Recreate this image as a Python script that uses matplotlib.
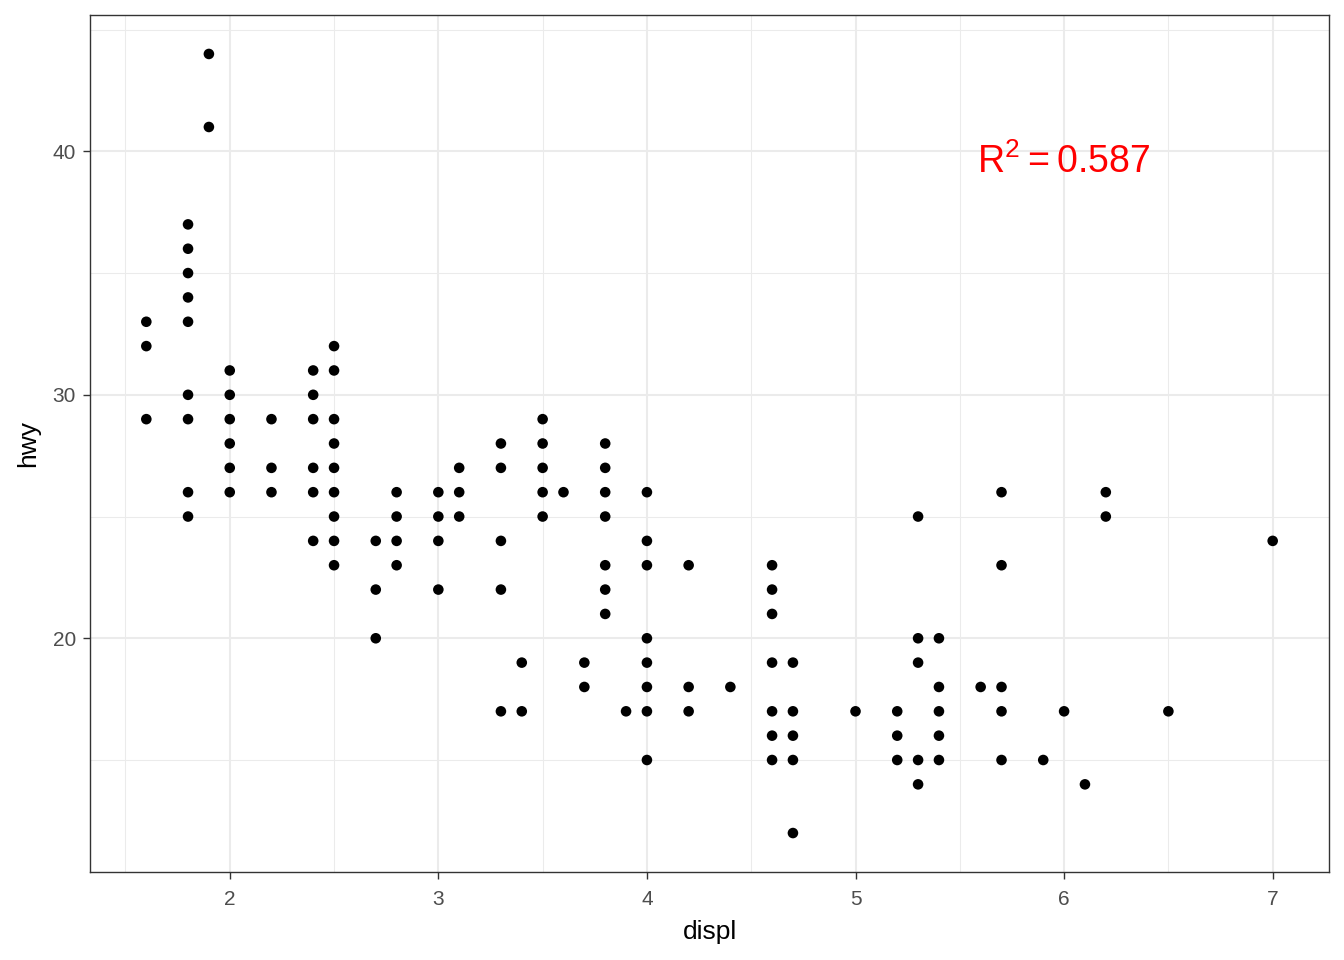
import matplotlib
matplotlib.use("Agg")
import matplotlib.pyplot as plt
from matplotlib.ticker import MultipleLocator

# mpg: displ vs hwy (distinct points)
displ_groups = [1.6, 1.8, 1.9, 2.0, 2.2, 2.4, 2.5, 2.7, 2.8, 3.0, 3.1, 3.3, 3.4,
                3.5, 3.6, 3.7, 3.8, 3.9, 4.0, 4.2, 4.4, 4.6, 4.7, 5.0, 5.2, 5.3,
                5.4, 5.6, 5.7, 5.9, 6.0, 6.1, 6.2, 6.5, 7.0]
hwy_groups = [
    [33, 32, 29],
    [37, 36, 35, 34, 33, 30, 29, 26, 25],
    [44, 41],
    [31, 30, 29, 28, 27, 26],
    [29, 27, 26],
    [31, 30, 29, 27, 26, 24],
    [32, 31, 29, 28, 27, 26, 25, 24, 23],
    [24, 22, 20],
    [26, 25, 24, 23],
    [26, 25, 24, 22],
    [27, 26, 25],
    [28, 27, 24, 22, 17],
    [19, 17],
    [29, 28, 27, 26, 25],
    [26],
    [19, 18],
    [28, 27, 26, 25, 23, 22, 21],
    [17],
    [26, 24, 23, 20, 19, 18, 17, 15],
    [23, 18, 17],
    [18],
    [23, 22, 21, 19, 17, 16, 15],
    [19, 17, 16, 15, 12],
    [17],
    [17, 16, 15],
    [25, 20, 19, 15, 14],
    [20, 18, 17, 16, 15],
    [18],
    [26, 23, 18, 17, 15],
    [15],
    [17],
    [14],
    [26, 25],
    [17],
    [24],
]
r2_value = 0.587

displ = [d for d, hs in zip(displ_groups, hwy_groups) for _ in hs]
hwy = [h for hs in hwy_groups for h in hs]

plt.rcParams['font.family'] = ['Liberation Sans', 'DejaVu Sans']
fig = plt.figure(figsize=(13.44, 9.6), dpi=100)
ax = fig.add_axes([90 / 1344, 1 - 872 / 960, (1329 - 90) / 1344, (872 - 15) / 960])

ax.scatter(displ, hwy, s=58, color='black', edgecolors='none', zorder=3)

xmin, xmax = min(displ), max(displ)
ymin, ymax = min(hwy), max(hwy)
xpad = (xmax - xmin) * 0.05
ypad = (ymax - ymin) * 0.05
ax.set_xlim(xmin - xpad, xmax + xpad)
ax.set_ylim(ymin - ypad, ymax + ypad)

ax.xaxis.set_major_locator(MultipleLocator(1))
ax.xaxis.set_minor_locator(MultipleLocator(0.5))
ax.yaxis.set_major_locator(MultipleLocator(10))
ax.yaxis.set_minor_locator(MultipleLocator(5))

ax.grid(which='major', color='#EBEBEB', linewidth=1.5, zorder=0)
ax.grid(which='minor', color='#EBEBEB', linewidth=0.75, zorder=0)
ax.set_axisbelow(True)

for sp in ax.spines.values():
    sp.set_color('#333333')
    sp.set_linewidth(1.0)

ax.tick_params(which='major', length=5, width=1.0, color='#333333',
               labelcolor='#4D4D4D', labelsize=15, pad=5)
ax.tick_params(axis='x', which='major', pad=8)
ax.tick_params(which='minor', length=0)

ax.set_xlabel('displ', fontsize=19, labelpad=8)
ax.set_ylabel('hwy', fontsize=19, labelpad=9)

ax.text(6.0, 39.55, r'$\mathregular{R^2 = %.3f}$' % r2_value, color='red',
        fontsize=27, ha='center', va='center')

fig.savefig('out.png', dpi=100)
